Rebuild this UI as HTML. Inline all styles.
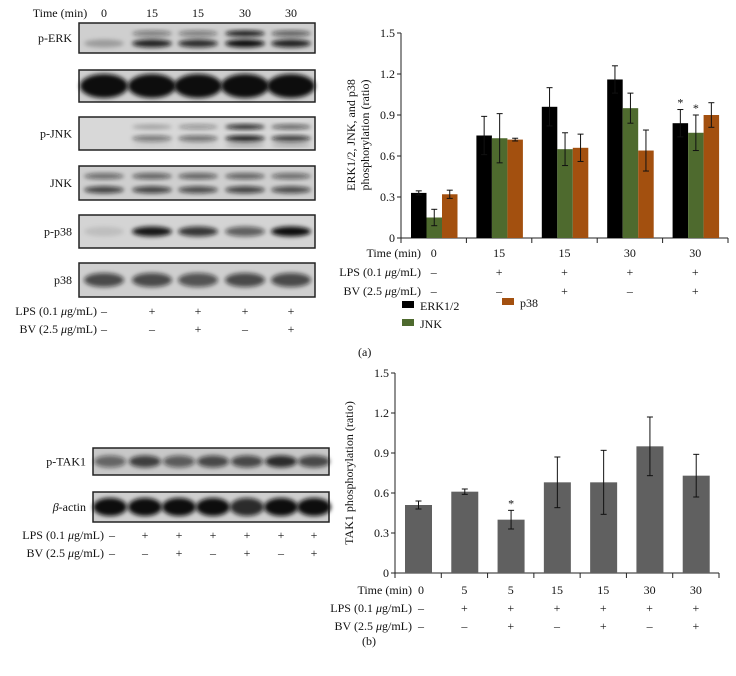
<!DOCTYPE html>
<html><head><meta charset="utf-8"><style>
body{margin:0;background:#fff;width:736px;height:676px;position:relative;overflow:hidden;font-family:"Liberation Serif",serif;color:#111}
svg{position:absolute;left:0;top:0}
text{font-family:"Liberation Serif",serif;fill:#111}
</style></head><body>
<svg width="736" height="676">
<defs><filter id="bl" x="-20%" y="-50%" width="140%" height="200%"><feGaussianBlur stdDeviation="2.2"/></filter></defs>
<g id="blotsA"></g>
<g id="blotsB"></g>
<g id="chartA"></g>
<g id="chartB"></g>
<text x="358" y="356" font-size="12">(a)</text>
<text x="362" y="645" font-size="12">(b)</text>
</svg>
<script>
const NS="http://www.w3.org/2000/svg";
function mk(p,t,a,txt){const e=document.createElementNS(NS,t);for(const k in a)e.setAttribute(k,a[k]);if(txt!==undefined)e.textContent=txt;p.appendChild(e);return e;}

// ---------- Chart A data ----------
const groupsA=["0","15","15","30","30"];
const lpsA=["–","+","+","+","+"];
const bvA=["–","–","+","–","+"];
const erk=[0.33,0.75,0.96,1.16,0.84];
const erkErr=[0.015,0.14,0.14,0.10,0.10];
const jnk=[0.15,0.73,0.65,0.95,0.77];
const jnkErr=[0.06,0.18,0.12,0.11,0.13];
const p38=[0.32,0.72,0.66,0.64,0.90];
const p38Err=[0.03,0.01,0.10,0.15,0.09];
const starA=[false,false,false,false,true];
const ticksA=[0,0.3,0.6,0.9,1.2,1.5];

// ---------- Chart B data ----------
const groupsB=["0","5","5","15","15","30","30"];
const lpsB=["–","+","+","+","+","+","+"];
const bvB=["–","–","+","–","+","–","+"];
const tak=[0.51,0.61,0.40,0.68,0.68,0.95,0.73];
const takErr=[0.03,0.02,0.07,0.19,0.24,0.22,0.16];
const starB=[false,false,true,false,false,false,false];
const ticksB=[0,0.3,0.6,0.9,1.2,1.5];

function drawChart(g,opt){
  const {x0,x1,y0,yTop,max,groups,ticks}=opt;
  const ys=v=>y0-(v/max)*(y0-yTop);
  const gw=(x1-x0)/groups.length;
  const a=mk(g,"line",{x1:x0,y1:y0,x2:x0,y2:yTop,stroke:"#222","stroke-width":1});
  
  const b=mk(g,"line",{x1:x0,y1:y0,x2:x1,y2:y0,stroke:"#222","stroke-width":1});
  
  ticks.forEach(t=>{
    mk(g,"line",{x1:x0-4,y1:ys(t),x2:x0,y2:ys(t),stroke:"#222"});
    const tx=mk(g,"text",{x:x0-6,y:ys(t)+4,"font-size":12,"text-anchor":"end"},t===0?"0":t.toFixed(1));
    
  });
  for(let i=0;i<=groups.length;i++)mk(g,"line",{x1:x0+i*gw,y1:y0,x2:x0+i*gw,y2:y0+5,stroke:"#222"});
  return {ys,gw};
}
function errBar(g,cx,top,bot,w){
  mk(g,"line",{x1:cx,y1:top,x2:cx,y2:bot,stroke:"#111","stroke-width":1});
  mk(g,"line",{x1:cx-w,y1:top,x2:cx+w,y2:top,stroke:"#111","stroke-width":1});
  mk(g,"line",{x1:cx-w,y1:bot,x2:cx+w,y2:bot,stroke:"#111","stroke-width":1});
}
function rowLabels(g,labels,rows,x0,gw,firstY,rowH,labX){
  rows.forEach((r,ri)=>{
    const y=firstY+ri*rowH;
    const l=mk(g,"text",{x:labX,y:y,"font-size":12,"text-anchor":"end"});
    l.innerHTML=labels[ri];
    
    r.forEach((v,i)=>{
      const cx=i===0?Math.max(x0+gw/2,labX+9):x0+gw*i+gw/2;
      const t=mk(g,"text",{x:cx,y:y,"font-size":12,"text-anchor":"middle"},v);
      
    });
  });
}

// Chart A
(function(){
  const g=document.getElementById("chartA");
  const x0=401,x1=728,y0=238,yTop=33;
  const {ys,gw}=drawChart(g,{x0,x1,y0,yTop,max:1.5,groups:groupsA,ticks:ticksA});
  const series=[[erk,erkErr,"#000"],[jnk,jnkErr,"#4e6a2e"],[p38,p38Err,"#a3500f"]];
  const bw=15.5;
  groupsA.forEach((_,i)=>{
    series.forEach((s,si)=>{
      const bx=x0+i*gw+10+si*bw;
      const r=mk(g,"rect",{x:bx,y:ys(s[0][i]),width:bw,height:y0-ys(s[0][i]),fill:s[2]});
      
      
      errBar(g,bx+bw/2,ys(s[0][i]+s[1][i]),ys(s[0][i]-s[1][i]),3);
      if(starA[i]&&si<2){const st=mk(g,"text",{x:bx+bw/2,y:ys(s[0][i]+s[1][i])-3,"font-size":12,"text-anchor":"middle"},"*");
        }
    });
  });
  const yl=mk(g,"text",{transform:"translate(355,135) rotate(-90)","font-size":12,"text-anchor":"middle"},"ERK1/2, JNK, and p38");
  
  const yl2=mk(g,"text",{transform:"translate(369,135) rotate(-90)","font-size":12,"text-anchor":"middle"},"phosphorylation (ratio)");
  
  rowLabels(g,["Time (min)","LPS (0.1 <tspan font-style='italic'>μ</tspan>g/mL)","BV (2.5 <tspan font-style='italic'>μ</tspan>g/mL)"],[groupsA,lpsA,bvA],x0,gw,257,19,421);
  const leg=[["ERK1/2","#000",402,310],["JNK","#4e6a2e",402,328],["p38","#a3500f",502,307]];
  leg.forEach(l=>{
    const r=mk(g,"rect",{x:l[2],y:l[3]-9,width:12,height:7,fill:l[1]});
    
    const t=mk(g,"text",{x:l[2]+18,y:l[3],"font-size":12},l[0]);
    
  });
})();

// Chart B
(function(){
  const g=document.getElementById("chartB");
  const x0=395,x1=719,y0=573,yTop=373;
  const {ys,gw}=drawChart(g,{x0,x1,y0,yTop,max:1.5,groups:groupsB,ticks:ticksB});
  const bw=27;
  tak.forEach((v,i)=>{
    const bx=x0+i*gw+10;
    const r=mk(g,"rect",{x:bx,y:ys(v),width:bw,height:y0-ys(v),fill:"#606060"});
    
    errBar(g,bx+bw/2,ys(v+takErr[i]),ys(v-takErr[i]),3);
    if(starB[i]){const st=mk(g,"text",{x:bx+bw/2,y:ys(v+takErr[i])-3,"font-size":12,"text-anchor":"middle"},"*");
      }
  });
  const yl=mk(g,"text",{transform:"translate(353,473) rotate(-90)","font-size":12,"text-anchor":"middle"},"TAK1 phosphorylation (ratio)");
  
  rowLabels(g,["Time (min)","LPS (0.1 <tspan font-style='italic'>μ</tspan>g/mL)","BV (2.5 <tspan font-style='italic'>μ</tspan>g/mL)"],[groupsB,lpsB,bvB],x0,gw,594,18,412);
})();

// Blots
function blot(g,name,label,x,y,w,h,lanes,bands,bg){
  const gg=mk(g,"g",{});
  
  mk(gg,"rect",{x:x,y:y,width:w,height:h,fill:bg||"#cfcfcf",stroke:"#222","stroke-width":1.5});
  bands.forEach(b=>{
    lanes.forEach((lx,i)=>{
      const o=b[1][i]; if(o<=0)return;
      mk(gg,"ellipse",{cx:lx,cy:y+h*b[0],rx:b[3]||20,ry:b[2],fill:"#111","fill-opacity":o,filter:"url(#bl)"});
    });
  });
  if(label){const t=mk(gg,"text",{x:x-7,y:y+h/2+4,"font-size":12,"text-anchor":"end"});t.innerHTML=label;}
}
(function(){
  const g=document.getElementById("blotsA");
  const lanes=[104,152,198,245,291];
  const hdr=["Time (min)","0","15","15","30","30"];
  const hx=[60,104,152,198,245,291];
  hdr.forEach((h,i)=>{const t=mk(g,"text",{x:hx[i],y:17,"font-size":12,"text-anchor":"middle"},h);
    });
  blot(g,"p-erk","p-ERK",79,23,236,30,lanes,[[0.35,[0,.45,.45,.95,.6],3],[0.68,[.25,.9,.85,1,.9],4]]);
  blot(g,"erk","",79,70,236,32,lanes,[[0.5,[1,1,1,1,1],12,24]]);
  blot(g,"p-jnk","p-JNK",79,117,236,33,lanes,[[0.3,[0,.25,.35,.9,.6],2.5],[0.65,[0,.5,.55,.95,.8],3],[0.85,[0,.1,.1,.3,.3],1.5]],"#d8d8d8");
  blot(g,"jnk","JNK",79,166,236,34,lanes,[[0.3,[.55,.6,.6,.6,.55],3],[0.7,[.75,.75,.7,.75,.7],3.5]]);
  blot(g,"p-p38","p-p38",79,215,236,33,lanes,[[0.5,[.1,.95,.8,.6,1],5]],"#d4d4d4");
  blot(g,"p38","p38",79,263,236,34,lanes,[[0.5,[.7,.7,.65,.7,.7],7]]);
  const rows=[["LPS (0.1 <tspan font-style='italic'>μ</tspan>g/mL)","–","+","+","+","+"],["BV (2.5 <tspan font-style='italic'>μ</tspan>g/mL)","–","–","+","–","+"]];
  rows.forEach((r,ri)=>{
    const t=mk(g,"text",{x:97,y:315+ri*18,"font-size":12,"text-anchor":"end"});t.innerHTML=r[0];
    
    for(let i=1;i<6;i++){const c=mk(g,"text",{x:i===1?104:lanes[i-1],y:315+ri*18,"font-size":12,"text-anchor":"middle"},r[i]);
      }
  });
})();
(function(){
  const g=document.getElementById("blotsB");
  const lanes=[110,145,179,213,247,281,314];
  blot(g,"p-tak1","p-TAK1",93,448,236,27,lanes,[[0.5,[.55,.75,.6,.7,.7,.85,.7],6,16]],"#c8c8c8");
  blot(g,"beta-actin","<tspan font-style='italic'>β</tspan>-actin",93,492,236,30,lanes,[[0.5,[1,1,1,1,.85,1,1],9,17]]);
  const rows=[["LPS (0.1 <tspan font-style='italic'>μ</tspan>g/mL)","–","+","+","+","+","+","+"],["BV (2.5 <tspan font-style='italic'>μ</tspan>g/mL)","–","–","+","–","+","–","+"]];
  rows.forEach((r,ri)=>{
    const t=mk(g,"text",{x:104,y:539+ri*18,"font-size":12,"text-anchor":"end"});t.innerHTML=r[0];
    
    for(let i=1;i<8;i++){const c=mk(g,"text",{x:i===1?112:lanes[i-1],y:539+ri*18,"font-size":12,"text-anchor":"middle"},r[i]);
      }
  });
})();
</script>
</body></html>
